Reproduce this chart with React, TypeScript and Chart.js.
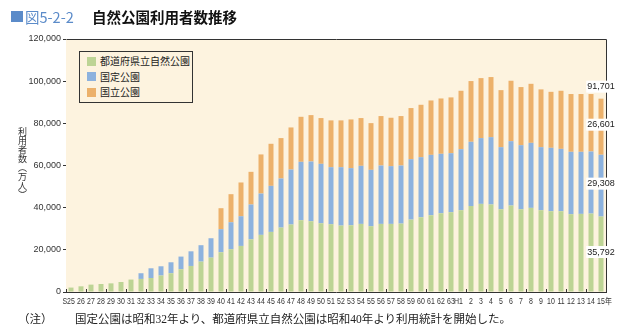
import React, { useEffect, useRef } from 'react';
import { Chart, registerables } from 'chart.js';

Chart.register(...registerables);

const years = ['S25','26','27','28','29','30','31','32','33','34','35','36','37','38','39','40','41','42','43','44','45','46','47','48','49','50','51','52','53','54','55','56','57','58','59','60','61','62','63','H1','2','3','4','5','6','7','8','9','10','11','12','13','14','15年'];

// 都道府県立自然公園 (green, bottom)
const prefectural = [2100,2700,3500,3800,4100,4750,5900,6200,6650,7800,8900,10800,12350,14400,16300,18850,20300,21850,25000,27100,28500,30550,32000,34050,33550,32600,32150,31500,31650,32300,31200,32300,32300,32450,34350,35450,36400,37350,37850,38800,40800,41800,41500,39250,41000,39250,39900,38800,38300,38300,36900,37050,37200,35792];

// 国定公園 (blue, middle)
const quasiNational = [null,null,null,null,null,null,null,2700,4600,4400,5200,6000,6950,7800,9200,10950,12800,14100,16500,19600,21850,23300,26100,27700,28350,28200,27050,27700,27100,27550,26750,27700,27400,27550,28650,28500,28650,28200,28000,28950,30450,31200,31950,29450,30550,30400,30850,29900,30100,29600,29600,29450,29450,29308];

// 国立公園 (orange, top)
const national = [null,null,null,null,null,null,null,null,null,null,null,null,null,null,null,9950,13300,16000,15500,18550,19950,19150,19950,21350,22000,21700,22200,22200,23100,22650,22150,23450,22950,23450,24250,24850,25800,26250,26450,27700,28800,28450,28500,27050,28650,27550,28000,27400,26550,27550,27400,27400,27250,26601];

const seriesNames = ['都道府県立自然公園', '国定公園', '国立公園'];
const seriesColors = ['#bdd495', '#8db2de', '#ecb16b'];
const yMax = 120000;
const yStep = 20000;

const CREAM = '#fdf3df';
const AXIS = '#333333';

export default function App() {
  const ref = useRef<HTMLCanvasElement>(null);

  useEffect(() => {
    document.body.style.margin = '0';
    const canvas = ref.current!;
    const allSeries = [prefectural, quasiNational, national];

    const decor = {
      id: 'decor',
      beforeDatasetsDraw(chart: any) {
        const { ctx, chartArea: a } = chart;
        ctx.save();
        ctx.fillStyle = CREAM;
        ctx.fillRect(a.left, a.top, a.right - a.left, a.bottom - a.top);
        ctx.restore();
      },
      afterDraw(chart: any) {
        const { ctx, chartArea: a } = chart;
        const al = (p: number) => Math.round(p - 0.5) + 0.5;
        ctx.save();
        ctx.strokeStyle = AXIS;
        ctx.lineWidth = 1;
        ctx.beginPath();
        ctx.moveTo(al(a.left), al(a.top));
        ctx.lineTo(al(a.right), al(a.top));
        ctx.lineTo(al(a.right), al(a.bottom));
        ctx.stroke();
        // inward x tick marks every other category boundary
        const xs = chart.scales.x;
        ctx.beginPath();
        for (let k = 0; k <= years.length; k += 2) {
          const x = al(xs.getPixelForValue(k - 0.5));
          ctx.moveTo(x, a.bottom);
          ctx.lineTo(x, a.bottom - 3);
        }
        ctx.stroke();
        // condensed x category labels: the number is centred under its bar,
        // a prefix (S, H) hangs to the left and a suffix (年) to the right
        ctx.fillStyle = '#333';
        ctx.font = '8.5px "Liberation Sans", Arial, "Noto Sans CJK JP", sans-serif';
        ctx.textBaseline = 'middle';
        years.forEach((lab, i) => {
          const x = xs.getPixelForValue(i);
          const m = lab.match(/^(\D*)(\d+)(\D*)$/);
          const pre = m ? m[1] : '';
          const num = m ? m[2] : lab;
          const suf = m ? m[3] : '';
          const dw = ctx.measureText(num).width;
          ctx.save();
          ctx.translate(x, a.bottom + 9.5);
          ctx.scale(0.82, 1);
          ctx.textAlign = 'center';
          ctx.fillText(num, 0, 0);
          if (pre) { ctx.textAlign = 'right'; ctx.fillText(pre, -dw / 2, 0); }
          if (suf) { ctx.textAlign = 'left'; ctx.fillText(suf, dw / 2, 0); }
          ctx.restore();
        });
        // end labels for the last year
        const last = years.length - 1;
        ctx.font = '9px "Liberation Sans", Arial, sans-serif';
        ctx.textAlign = 'center';
        const drawLabel = (text: string, x: number, y: number) => {
          const w = ctx.measureText(text).width;
          ctx.fillStyle = '#ffffff';
          ctx.fillRect(x - w / 2 - 1, y - 6, w + 2, 12);
          ctx.fillStyle = '#222222';
          ctx.fillText(text, x, y);
        };
        let total = 0;
        let topY = a.bottom;
        let cx = 0;
        allSeries.forEach((s, i) => {
          const el: any = chart.getDatasetMeta(i).data[last];
          const v = s[last] as number;
          total += v;
          cx = el.x;
          topY = Math.min(topY, el.y);
          drawLabel(v.toLocaleString('en-US'), el.x, (el.y + el.base) / 2 - 2);
        });
        drawLabel(total.toLocaleString('en-US'), cx, topY - 12);
        ctx.restore();
      },
    };

    const chart = new Chart(canvas, {
      type: 'bar',
      data: {
        labels: years,
        datasets: allSeries.map((s, i) => ({
          label: seriesNames[i],
          data: s,
          backgroundColor: seriesColors[i],
          borderWidth: 0,
          barPercentage: 0.5,
          categoryPercentage: 1,
        })),
      },
      options: {
        responsive: false,
        animation: false,
        devicePixelRatio: 1,
        layout: { padding: { left: 0, right: 19, top: 39, bottom: 21 } },
        plugins: {
          legend: { display: false },
          tooltip: { enabled: false },
          title: { display: false },
        },
        scales: {
          x: {
            stacked: true,
            offset: true,
            grid: { display: false },
            border: { display: true, color: AXIS, width: 1 },
            ticks: { display: false, autoSkip: false },
            afterFit: (s: any) => { s.height = 20; },
          },
          y: {
            stacked: true,
            min: 0,
            max: yMax,
            ticks: {
              stepSize: yStep,
              padding: 2,
              color: '#333',
              font: { family: '"Liberation Sans", Arial, sans-serif', size: 9 },
              callback: (v: any) => Number(v).toLocaleString('en-US'),
            },
            grid: { drawOnChartArea: false, drawTicks: true, tickLength: 3, color: AXIS },
            border: { display: true, color: AXIS, width: 1 },
            afterFit: (s: any) => { s.width = 66; },
          },
        },
      },
      plugins: [decor],
    } as any);

    return () => chart.destroy();
  }, []);

  const jp = '"Noto Sans CJK JP", sans-serif';

  return (
    <div style={{ position: 'relative', width: 625, height: 333, background: '#fff', overflow: 'hidden' }}>
      <canvas ref={ref} width={625} height={333} style={{ position: 'absolute', left: 0, top: 0, width: 625, height: 333 }} />
      {/* title */}
      <div style={{ position: 'absolute', left: 11, top: 11, width: 12, height: 11, background: '#5b8bc9' }} />
      <div style={{ position: 'absolute', left: 25, top: 8, fontFamily: jp, fontSize: 14.5, lineHeight: '17px', color: '#5b8bc9', whiteSpace: 'nowrap' }}>図5-2-2</div>
      <div style={{ position: 'absolute', left: 92, top: 8, fontFamily: jp, fontSize: 14.5, lineHeight: '17px', fontWeight: 700, color: '#111', whiteSpace: 'nowrap' }}>自然公園利用者数推移</div>
      {/* legend */}
      <div style={{ position: 'absolute', left: 79, top: 51, width: 114, height: 52, boxSizing: 'border-box', border: '1px solid #333', background: CREAM }}>
        {seriesNames.map((n, i) => (
          <div key={n} style={{ position: 'absolute', left: 7, top: 3 + i * 15.5, height: 12, display: 'flex', alignItems: 'center', whiteSpace: 'nowrap' }}>
            <div style={{ width: 9, height: 9, background: seriesColors[i], marginRight: 4 }} />
            <span style={{ fontFamily: jp, fontSize: 10, lineHeight: '12px', color: '#222' }}>{n}</span>
          </div>
        ))}
      </div>
      {/* y axis title */}
      <div style={{ position: 'absolute', left: 17, top: 127, writingMode: 'vertical-rl', fontFamily: jp, fontSize: 9, lineHeight: '10px', color: '#333', whiteSpace: 'nowrap' }}>利用者数（万人）</div>
      {/* note */}
      <div style={{ position: 'absolute', left: 18, top: 311, fontFamily: '"Liberation Serif", "Noto Sans CJK JP", serif', fontSize: 11.5, lineHeight: '16px', color: '#222', whiteSpace: 'nowrap' }}>（注）</div>
      <div style={{ position: 'absolute', left: 75, top: 311, fontFamily: '"Liberation Serif", "Noto Sans CJK JP", serif', fontSize: 11.5, lineHeight: '16px', color: '#222', whiteSpace: 'nowrap' }}>国定公園は昭和32年より、都道府県立自然公園は昭和40年より利用統計を開始した。</div>
    </div>
  );
}
